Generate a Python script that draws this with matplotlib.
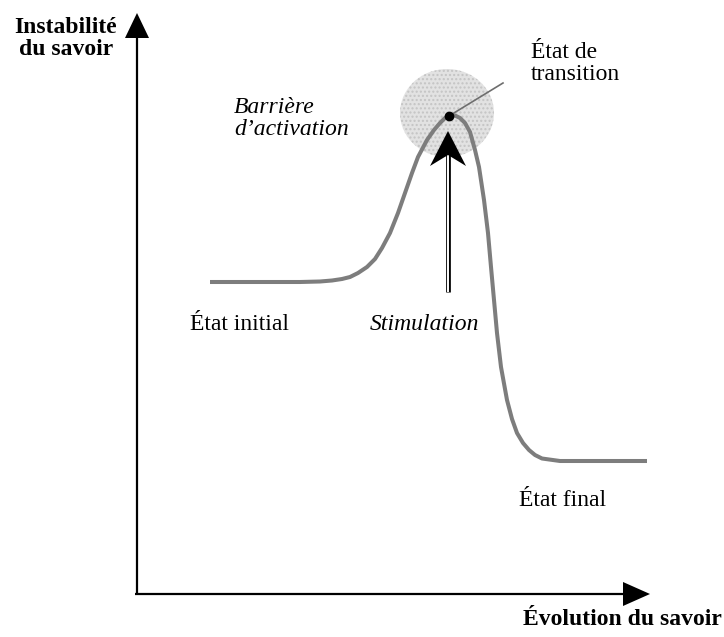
"""Diagramme : barrière d'activation du savoir."""

import matplotlib
matplotlib.use("Agg")
import matplotlib.pyplot as plt
from matplotlib.patches import Ellipse, Polygon

# courbe (coordonnées dans l'espace de la figure, en pixels)
curve_x = [210, 260, 300, 320, 332, 342, 350, 358, 367, 375, 382, 390, 398,
           405, 412, 418, 427, 434, 440, 445, 450, 455, 460, 465, 470, 475,
           479, 484, 488, 491, 494, 497, 501, 507, 512, 517, 523, 529, 535,
           542, 560, 600, 647]
curve_y = [282, 282, 282, 281.5, 280.5, 279, 277, 273, 267, 259, 248, 233,
           213, 193, 173, 157, 140, 130, 123, 118, 115.5, 115.5, 118, 123,
           132, 150, 167, 200, 233, 267, 300, 333, 367, 400, 419, 433, 443,
           450, 455, 458.5, 461, 461, 461]

peak = (449, 116)
labels = {
    "initial": "État initial",
    "final": "État final",
    "transition": "État de\ntransition",
    "barrier": "Barrière\nd\u2019activation",
    "stim": "Stimulation",
    "ylabel": "Instabilité\ndu savoir",
    "xlabel": "Évolution du savoir",
}

W, H = 724, 637
fig = plt.figure(figsize=(W / 100, H / 100), dpi=100)
ax = fig.add_axes([0, 0, 1, 1])
ax.set_xlim(0, W)
ax.set_ylim(H, 0)
ax.axis("off")

serif = ["Liberation Serif", "DejaVu Serif"]
fs = 17
ls = 1.05

# axes avec flèches
ax.plot([137, 137], [595, 35], color="black", lw=1.6, solid_capstyle="butt")
ax.plot([135, 625], [594, 594], color="black", lw=1.6, solid_capstyle="butt")
ax.add_patch(Polygon([(125, 38), (137, 13), (149, 38)], closed=True,
                     fc="black", ec="none"))
ax.add_patch(Polygon([(623, 582), (650, 594), (623, 606)], closed=True,
                     fc="black", ec="none"))

# zone grisée autour de l'état de transition
ax.add_patch(Ellipse((447, 113), 94, 88, fc="#e2e2e2", ec="#c4c4c4",
                     lw=0, hatch="....", zorder=1))

# courbe
ax.plot(curve_x, curve_y, color="#7d7d7d", lw=2.9, zorder=3,
        solid_capstyle="butt", solid_joinstyle="round")

# point de transition et trait vers l'étiquette
ax.plot([peak[0], 503], [peak[1], 83], color="#6e6e6e", lw=1.2, zorder=4)
ax.plot(*peak, "o", color="black", ms=6, zorder=5)

# flèche de stimulation (tige double)
ax.plot([447.5, 447.5], [292, 152], color="black", lw=3.4, zorder=4,
        solid_capstyle="butt")
ax.plot([447.5, 447.5], [292, 152], color="white", lw=1.4, zorder=4,
        solid_capstyle="butt")
ax.add_patch(Polygon([(448, 131), (430, 166), (448, 155), (466, 166)],
                     closed=True, fc="black", ec="none", zorder=5))

# textes (va="baseline" : ligne de base de la dernière ligne)
ax.text(66, 55, labels["ylabel"], family=serif, fontsize=fs,
        fontweight="bold", ha="center", va="baseline", linespacing=ls)
ax.text(722, 625, labels["xlabel"], family=serif, fontsize=fs,
        fontweight="bold", ha="right", va="baseline")
ax.text(531, 80, labels["transition"], family=serif, fontsize=fs,
        ha="left", va="baseline", linespacing=ls)
ax.text(234, 135, labels["barrier"], family=serif, fontsize=fs,
        style="italic", ha="left", va="baseline", linespacing=ls)
ax.text(190, 330, labels["initial"], family=serif, fontsize=fs,
        ha="left", va="baseline")
ax.text(370, 330, labels["stim"], family=serif, fontsize=fs,
        style="italic", ha="left", va="baseline")
ax.text(519, 506, labels["final"], family=serif, fontsize=fs,
        ha="left", va="baseline")

fig.savefig("out.png", dpi=100)
